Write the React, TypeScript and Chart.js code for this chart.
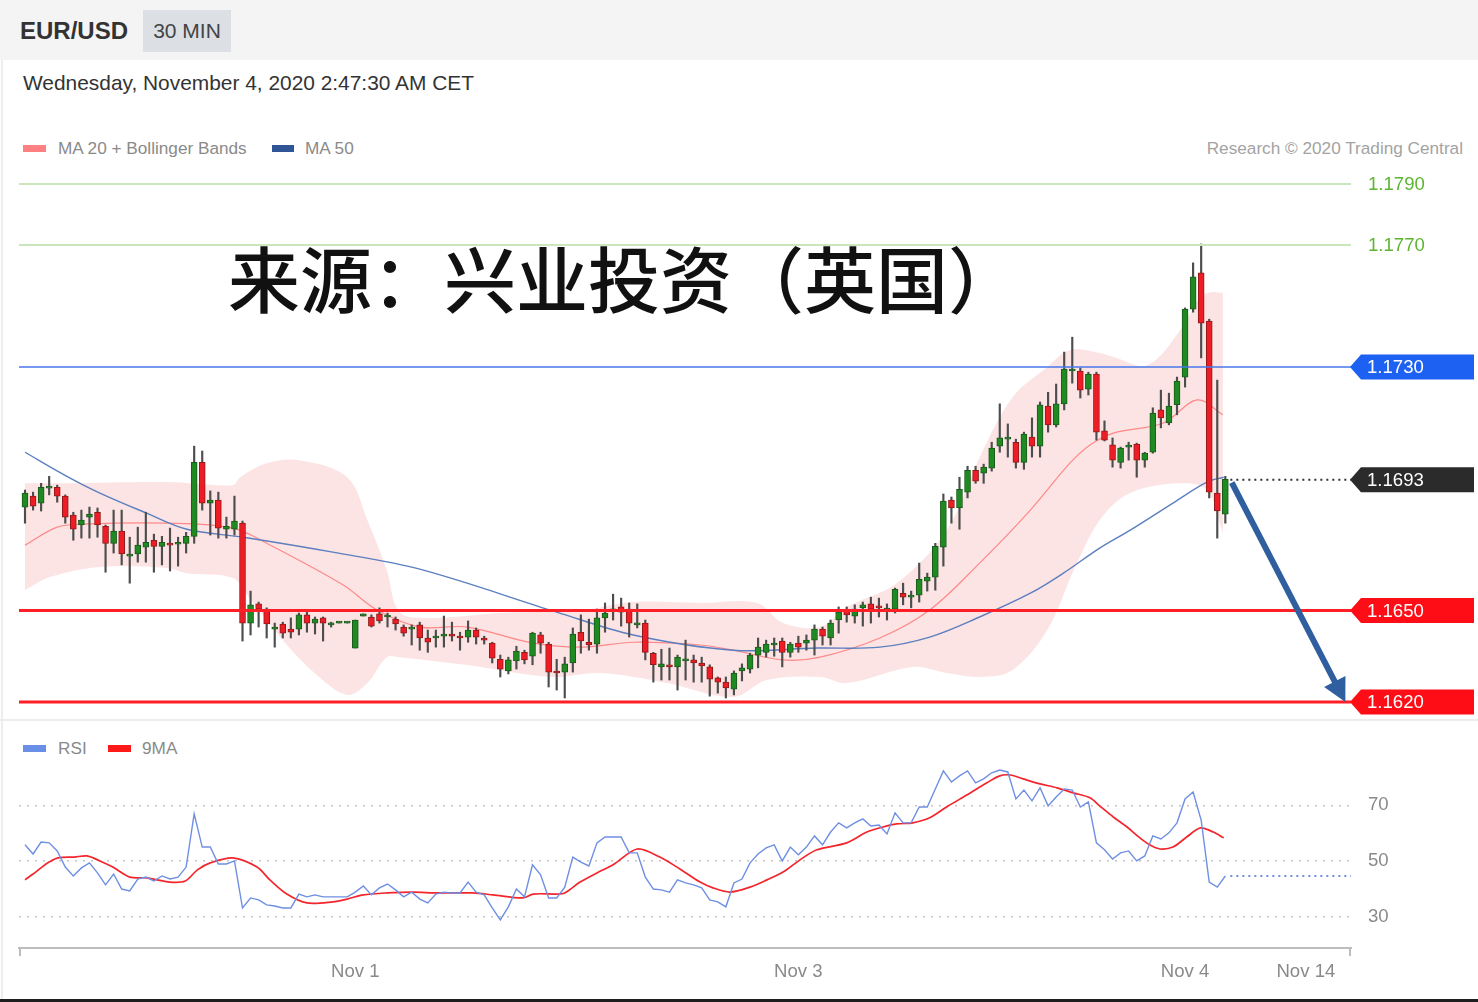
import React, { useEffect, useRef } from 'react';
import { Chart, registerables } from 'chart.js';

Chart.register(...registerables);

const FONT = '"Liberation Sans", Arial, Helvetica, sans-serif';

// ---------- price data (30 min candles) ----------
const candleOpen = [
  1.16840, 1.16876, 1.16853, 1.16902, 1.16905, 1.16876, 1.16814, 1.16781, 1.16807, 1.16823,
  1.16777, 1.16721, 1.16761, 1.16679, 1.16686, 1.16708, 1.16731, 1.16711, 1.16721, 1.16718,
  1.16721, 1.16744, 1.16987, 1.16853, 1.16863, 1.16767, 1.16767, 1.16787, 1.16459, 1.16522,
  1.16505, 1.16439, 1.16456, 1.16439, 1.16439, 1.16486, 1.16459, 1.16476, 1.16453, 1.16459,
  1.16459, 1.16377, 1.16482, 1.16479, 1.16489, 1.16479, 1.16472, 1.16446, 1.16439, 1.16453,
  1.16410, 1.16410, 1.16416, 1.16423, 1.16413, 1.16413, 1.16436, 1.16410, 1.16393, 1.16340,
  1.16302, 1.16335, 1.16363, 1.16350, 1.16420, 1.16390, 1.16298, 1.16298, 1.16328, 1.16429,
  1.16396, 1.16390, 1.16476, 1.16499, 1.16512, 1.16505, 1.16453, 1.16459, 1.16360, 1.16315,
  1.16322, 1.16315, 1.16335, 1.16338, 1.16328, 1.16315, 1.16279, 1.16265, 1.16242, 1.16302,
  1.16308, 1.16354, 1.16363, 1.16387, 1.16400, 1.16363, 1.16393, 1.16393, 1.16403, 1.16439,
  1.16410, 1.16469, 1.16499, 1.16482, 1.16509, 1.16522, 1.16512, 1.16502, 1.16505, 1.16557,
  1.16544, 1.16551, 1.16597, 1.16610, 1.16708, 1.16863, 1.16837, 1.16889, 1.16961, 1.16951,
  1.16968, 1.17040, 1.17063, 1.17053, 1.16987, 1.17070, 1.17040, 1.17172, 1.17110, 1.17179,
  1.17287, 1.17287, 1.17227, 1.17277, 1.17090, 1.17044, 1.16987, 1.17037, 1.17047, 1.16994,
  1.17020, 1.17159, 1.17116, 1.17176, 1.17267, 1.17490, 1.17609, 1.17451, 1.16886, 1.16817,
];
const candleHigh = [
  1.16896, 1.16889, 1.16918, 1.16941, 1.16912, 1.16880, 1.16823, 1.16830, 1.16840, 1.16837,
  1.16781, 1.16830, 1.16830, 1.16741, 1.16774, 1.16823, 1.16751, 1.16744, 1.16771, 1.16741,
  1.16757, 1.17040, 1.17024, 1.16893, 1.16889, 1.16807, 1.16876, 1.16794, 1.16564, 1.16528,
  1.16509, 1.16459, 1.16462, 1.16476, 1.16492, 1.16502, 1.16479, 1.16479, 1.16462, 1.16459,
  1.16459, 1.16469, 1.16489, 1.16486, 1.16509, 1.16492, 1.16479, 1.16453, 1.16453, 1.16462,
  1.16436, 1.16436, 1.16482, 1.16462, 1.16429, 1.16466, 1.16443, 1.16416, 1.16396, 1.16354,
  1.16347, 1.16383, 1.16370, 1.16429, 1.16429, 1.16396, 1.16340, 1.16347, 1.16443, 1.16486,
  1.16472, 1.16505, 1.16525, 1.16554, 1.16541, 1.16525, 1.16522, 1.16469, 1.16363, 1.16373,
  1.16377, 1.16354, 1.16403, 1.16354, 1.16347, 1.16322, 1.16282, 1.16282, 1.16302, 1.16325,
  1.16360, 1.16410, 1.16403, 1.16410, 1.16410, 1.16396, 1.16416, 1.16420, 1.16453, 1.16446,
  1.16469, 1.16512, 1.16512, 1.16519, 1.16528, 1.16544, 1.16541, 1.16522, 1.16574, 1.16590,
  1.16564, 1.16656, 1.16623, 1.16721, 1.16883, 1.16873, 1.16938, 1.16974, 1.16974, 1.16981,
  1.17053, 1.17179, 1.17113, 1.17063, 1.17086, 1.17133, 1.17185, 1.17217, 1.17244, 1.17349,
  1.17398, 1.17297, 1.17283, 1.17283, 1.17123, 1.17067, 1.17037, 1.17053, 1.17050, 1.17020,
  1.17166, 1.17224, 1.17214, 1.17267, 1.17494, 1.17642, 1.17704, 1.17457, 1.17257, 1.16941,
];
const candleLow = [
  1.16787, 1.16830, 1.16827, 1.16880, 1.16856, 1.16787, 1.16731, 1.16738, 1.16738, 1.16741,
  1.16626, 1.16689, 1.16650, 1.16590, 1.16659, 1.16659, 1.16626, 1.16650, 1.16630, 1.16646,
  1.16689, 1.16721, 1.16830, 1.16748, 1.16738, 1.16738, 1.16748, 1.16400, 1.16420, 1.16446,
  1.16410, 1.16380, 1.16410, 1.16410, 1.16420, 1.16429, 1.16423, 1.16400, 1.16446, 1.16459,
  1.16459, 1.16377, 1.16482, 1.16446, 1.16459, 1.16446, 1.16436, 1.16416, 1.16387, 1.16370,
  1.16363, 1.16380, 1.16380, 1.16400, 1.16370, 1.16396, 1.16390, 1.16390, 1.16328, 1.16282,
  1.16292, 1.16308, 1.16325, 1.16322, 1.16360, 1.16249, 1.16239, 1.16213, 1.16298, 1.16360,
  1.16370, 1.16360, 1.16429, 1.16469, 1.16449, 1.16413, 1.16443, 1.16338, 1.16265, 1.16272,
  1.16272, 1.16239, 1.16272, 1.16265, 1.16265, 1.16219, 1.16229, 1.16213, 1.16223, 1.16269,
  1.16295, 1.16312, 1.16347, 1.16350, 1.16315, 1.16347, 1.16363, 1.16370, 1.16354, 1.16387,
  1.16387, 1.16426, 1.16462, 1.16459, 1.16449, 1.16459, 1.16479, 1.16469, 1.16492, 1.16519,
  1.16509, 1.16528, 1.16564, 1.16567, 1.16646, 1.16787, 1.16767, 1.16870, 1.16918, 1.16918,
  1.16958, 1.17020, 1.17004, 1.16968, 1.16964, 1.17004, 1.17004, 1.17086, 1.17103, 1.17159,
  1.17247, 1.17198, 1.17208, 1.17060, 1.17057, 1.16971, 1.16968, 1.16994, 1.16938, 1.16971,
  1.17017, 1.17100, 1.17110, 1.17143, 1.17234, 1.17480, 1.17330, 1.16870, 1.16738, 1.16787,
];
const candleClose = [
  1.16886, 1.16843, 1.16905, 1.16905, 1.16876, 1.16807, 1.16767, 1.16797, 1.16817, 1.16781,
  1.16721, 1.16761, 1.16686, 1.16683, 1.16715, 1.16724, 1.16711, 1.16724, 1.16715, 1.16721,
  1.16744, 1.16987, 1.16853, 1.16863, 1.16771, 1.16777, 1.16794, 1.16459, 1.16519, 1.16505,
  1.16456, 1.16446, 1.16426, 1.16429, 1.16486, 1.16459, 1.16472, 1.16459, 1.16459, 1.16459,
  1.16459, 1.16469, 1.16489, 1.16449, 1.16466, 1.16482, 1.16456, 1.16426, 1.16443, 1.16410,
  1.16396, 1.16416, 1.16423, 1.16416, 1.16410, 1.16436, 1.16413, 1.16403, 1.16344, 1.16308,
  1.16338, 1.16367, 1.16338, 1.16426, 1.16393, 1.16298, 1.16295, 1.16325, 1.16423, 1.16400,
  1.16387, 1.16476, 1.16492, 1.16505, 1.16495, 1.16459, 1.16459, 1.16363, 1.16322, 1.16325,
  1.16315, 1.16347, 1.16340, 1.16328, 1.16318, 1.16275, 1.16265, 1.16246, 1.16295, 1.16312,
  1.16354, 1.16380, 1.16390, 1.16393, 1.16363, 1.16390, 1.16380, 1.16403, 1.16439, 1.16416,
  1.16459, 1.16495, 1.16486, 1.16505, 1.16519, 1.16505, 1.16509, 1.16505, 1.16570, 1.16544,
  1.16547, 1.16603, 1.16610, 1.16711, 1.16860, 1.16837, 1.16898, 1.16961, 1.16925, 1.16971,
  1.17034, 1.17067, 1.17067, 1.16987, 1.17080, 1.17040, 1.17176, 1.17110, 1.17179, 1.17293,
  1.17293, 1.17224, 1.17277, 1.17086, 1.17060, 1.16994, 1.17034, 1.17040, 1.16994, 1.17017,
  1.17149, 1.17133, 1.17172, 1.17254, 1.17490, 1.17596, 1.17444, 1.16889, 1.16827, 1.16931,
];

// ---------- indicator readings [candle index, value] ----------
const ma50: [number, number][] = [
  [1, 1.17020], [6.2, 1.16941], [10.3, 1.16886], [16.1, 1.16820], [21.1, 1.16767], [28.1, 1.16741],
  [39.2, 1.16692], [50, 1.16636], [67, 1.16495], [76.5, 1.16420], [88.9, 1.16370], [99.3, 1.16377],
  [107.1, 1.16380], [113.3, 1.16413], [119.5, 1.16479], [125.8, 1.16557], [129.9, 1.16623],
  [134.4, 1.16705], [138.2, 1.16764], [143.5, 1.16853], [147.7, 1.16922], [149.8, 1.16938],
];
const ma20: [number, number][] = [
  [1, 1.16715], [5, 1.16774], [8.2, 1.16784], [18.6, 1.16787], [26.8, 1.16771], [31, 1.16721],
  [40.5, 1.16584], [44.7, 1.16502], [50, 1.16446], [55.9, 1.16446], [64.1, 1.16393], [70.3, 1.16380],
  [76.5, 1.16396], [84.8, 1.16387], [88.9, 1.16370], [95.1, 1.16338], [99.7, 1.16347], [107.1, 1.16410],
  [113.3, 1.16502], [119.5, 1.16656], [125.8, 1.16830], [130.7, 1.16984], [133.2, 1.17044],
  [136.1, 1.17083], [142.3, 1.17116], [146.5, 1.17192], [149.7, 1.17143],
];
const bbUpper: [number, number][] = [
  [1, 1.16918], [6.2, 1.16918], [18.6, 1.16922], [26.8, 1.16912], [27.7, 1.16938], [31, 1.16984],
  [35.1, 1.16994], [41, 1.16938], [43.5, 1.16797], [45.9, 1.16633], [47.5, 1.16495], [51.3, 1.16476],
  [60, 1.16492], [70.3, 1.16502], [76.5, 1.16528], [84.8, 1.16525], [91.9, 1.16525], [95.1, 1.16459],
  [99.7, 1.16446], [103, 1.16512], [109.2, 1.16590], [115.4, 1.16764], [119.5, 1.17004], [123.6, 1.17201],
  [127.9, 1.17300], [130.7, 1.17356], [134.4, 1.17346], [136.1, 1.17333], [140.3, 1.17306],
  [144.4, 1.17421], [146.9, 1.17530], [148.5, 1.17546], [149.7, 1.17543],
];
const bbLower: [number, number][] = [
  [1, 1.16567], [4.1, 1.16610], [10.3, 1.16643], [18.6, 1.16640], [21.1, 1.16623], [26.8, 1.16607],
  [28.9, 1.16540], [33, 1.16403], [37.2, 1.16289], [41, 1.16223], [43.5, 1.16262], [45.9, 1.16347],
  [47.5, 1.16347], [55.9, 1.16321], [66.2, 1.16282], [72.4, 1.16295], [80.7, 1.16262], [88.9, 1.16216],
  [93.1, 1.16272], [99.7, 1.16282], [103, 1.16262], [111.2, 1.16315], [115.4, 1.16295], [119.5, 1.16282],
  [123.6, 1.16305], [127.9, 1.16436], [131.2, 1.16633], [134.4, 1.16797], [138.2, 1.16886],
  [144.4, 1.16918], [147.7, 1.16896], [149.7, 1.16754],
];

// ---------- RSI panel ----------
const rsi = [
  55.8, 52.5, 56.8, 56.5, 53.6, 47.8, 44.6, 47.5, 49.3, 45.7,
  41.4, 45.3, 39.9, 39.2, 43.5, 44.2, 42.8, 44.6, 43.5, 44.2,
  47.8, 66.9, 55.0, 55.0, 48.9, 48.9, 50.0, 33.1, 36.7, 36.0,
  34.2, 33.8, 33.1, 33.1, 38.1, 37.1, 37.8, 37.1, 37.1, 37.1,
  37.1, 38.8, 41.0, 37.8, 40.3, 41.7, 39.6, 37.1, 38.8, 36.3,
  34.9, 38.1, 38.8, 38.5, 38.5, 42.4, 38.8, 37.8, 33.1, 28.8,
  33.5, 39.9, 37.1, 48.6, 45.0, 36.7, 36.7, 40.6, 51.4, 49.6,
  48.2, 56.5, 58.6, 58.6, 58.6, 52.9, 52.9, 44.2, 39.9, 39.6,
  38.8, 43.2, 42.1, 41.4, 40.3, 36.0, 35.3, 33.5, 42.1, 43.5,
  49.3, 52.5, 54.7, 55.8, 50.0, 55.0, 52.2, 55.0, 59.0, 55.8,
  60.4, 63.7, 61.9, 63.7, 65.1, 62.6, 62.9, 59.7, 67.3, 63.7,
  63.7, 69.4, 69.4, 75.9, 82.4, 78.4, 80.6, 82.4, 78.1, 79.5,
  81.7, 82.7, 82.0, 72.3, 75.5, 71.6, 76.3, 69.8, 73.0, 75.9,
  75.5, 69.4, 71.2, 56.5, 54.0, 50.7, 52.9, 53.6, 50.0, 51.8,
  59.0, 57.9, 60.1, 63.7, 72.3, 74.8, 64.7, 42.4, 40.6, 44.6,
];
const rsiMa9: [number, number][] = [
  [1, 43.2], [2, 45.3], [3.1, 47.8], [4, 49.6], [5.1, 51.1], [7.1, 51.4], [8.7, 51.8], [10.3, 50.0],
  [11.9, 47.8], [14, 44.2], [16.1, 43.9], [19, 42.4], [20.9, 42.8], [22.4, 46.8], [24, 49.3], [26.8, 51.1],
  [29.8, 47.8], [31.4, 43.2], [33.5, 38.1], [36, 34.9], [39.2, 35.3], [41, 36.3], [43, 37.8], [45.9, 38.5],
  [49.2, 38.8], [52.1, 38.5], [56.6, 38.5], [59.1, 37.8], [62.8, 36.7], [64.1, 38.1], [67, 38.1],
  [68, 38.5], [69.9, 42.4], [72, 45.7], [74, 48.6], [77, 54.3], [79.8, 51.4], [82.3, 47.1], [84.8, 42.4],
  [86.4, 40.3], [88.5, 38.8], [91, 40.6], [93.1, 43.2], [95.1, 46.0], [97.2, 50.4], [99.3, 54.0],
  [103, 56.5], [105.5, 60.4], [107.5, 62.2], [109.2, 63.3], [111.2, 63.7], [113.3, 65.5], [115.4, 69.4],
  [117.9, 73.7], [120.4, 78.1], [122, 80.6], [123.3, 80.9], [124.9, 79.5], [127, 77.7], [129.1, 76.3],
  [131.1, 74.5], [133.2, 72.7], [134.4, 69.8], [136.1, 65.8], [137.8, 62.2], [139.4, 58.3], [140.6, 55.8],
  [141.9, 54.3], [143.5, 55.0], [145.2, 58.6], [146.9, 61.9], [148.5, 60.4], [149.8, 58.3],
];

// ---------- levels, axis ticks ----------
const greenLevels = [1.1790, 1.1770];
const pivotLevel = 1.1730;
const lastPrice = 1.1693;
const supportLevels = [1.1650, 1.1620];
const arrowFrom = { x: 150.8, y: 1.1692 };
const arrowTo = { x: 164.9, y: 1.1620 };
const rsiTicks = [30, 50, 70];
const xTickIdx = [42, 97, 145, 160];
const xTickLabels = ['Nov 1', 'Nov 3', 'Nov 4', 'Nov 14'];

const X_MIN = 0.255;
const X_MAX = 165.6;
const PRICE_MIN = 1.161407;
const PRICE_MAX = 1.179798;
const RSI_MIN = 18.7;
const RSI_MAX = 84.5;
const LABEL_SIZE = 18.6;

const candleIdx = candleOpen.map((_, i) => i + 1);
const isUp = (k: number) => candleClose[k] >= candleOpen[k];

function drawTag(ctx: any, left: number, right: number, py: number, text: string, color: string) {
  ctx.beginPath();
  ctx.moveTo(left, py);
  ctx.lineTo(left + 11, py - 12.5);
  ctx.lineTo(right, py - 12.5);
  ctx.lineTo(right, py + 12.5);
  ctx.lineTo(left + 11, py + 12.5);
  ctx.closePath();
  ctx.fillStyle = color;
  ctx.fill();
  ctx.fillStyle = '#ffffff';
  ctx.font = `${LABEL_SIZE}px ${FONT}`;
  ctx.textBaseline = 'middle';
  ctx.textAlign = 'left';
  ctx.fillText(text, left + 17, py + 1);
}

function hLine(ctx: any, x1: number, x2: number, y: number) {
  ctx.beginPath();
  ctx.moveTo(x1, y);
  ctx.lineTo(x2, y);
  ctx.stroke();
}

const mainOverlay = {
  id: 'mainOverlay',
  afterDatasetsDraw(chart: any) {
    const { ctx, chartArea: a, scales } = chart;
    const x = scales.x;
    const y = scales.y;
    const right = chart.width - 4;
    ctx.save();
    ctx.font = `${LABEL_SIZE}px ${FONT}`;
    ctx.textBaseline = 'middle';
    ctx.textAlign = 'left';
    greenLevels.forEach((v) => {
      const py = Math.round(y.getPixelForValue(v));
      ctx.strokeStyle = '#c9e7ba';
      ctx.lineWidth = 2;
      hLine(ctx, a.left, a.right, py);
      ctx.fillStyle = '#5db531';
      ctx.fillText(v.toFixed(4), a.right + 17, py + 1);
    });
    const pp = y.getPixelForValue(pivotLevel);
    ctx.strokeStyle = '#4677ea';
    ctx.lineWidth = 1.6;
    hLine(ctx, a.left, a.right, pp);
    drawTag(ctx, a.right - 1, right, pp, pivotLevel.toFixed(4), '#1d61f2');
    supportLevels.forEach((v) => {
      const py = y.getPixelForValue(v);
      ctx.strokeStyle = '#ff1f26';
      ctx.lineWidth = 3;
      hLine(ctx, a.left, a.right, py);
      drawTag(ctx, a.right - 1, right, py, v.toFixed(4), '#ff0d16');
    });
    const lp = y.getPixelForValue(lastPrice);
    const lx = x.getPixelForValue(candleIdx[candleIdx.length - 1]) + 5;
    ctx.setLineDash([2, 4]);
    ctx.strokeStyle = '#333';
    ctx.lineWidth = 2;
    hLine(ctx, lx, a.right, lp);
    ctx.setLineDash([]);
    drawTag(ctx, a.right - 1, right, lp, lastPrice.toFixed(4), '#2b2b2b');

    // arrow
    const sx = x.getPixelForValue(arrowFrom.x);
    const sy = y.getPixelForValue(arrowFrom.y);
    const tx = x.getPixelForValue(arrowTo.x);
    const ty = y.getPixelForValue(arrowTo.y);
    const dx = tx - sx;
    const dy = ty - sy;
    const len = Math.hypot(dx, dy);
    const ux = dx / len;
    const uy = dy / len;
    const headLen = 23;
    const headHalf = 12;
    const bx = tx - ux * headLen;
    const by = ty - uy * headLen;
    ctx.strokeStyle = '#2f5f9e';
    ctx.fillStyle = '#2f5f9e';
    ctx.lineWidth = 6;
    ctx.lineCap = 'butt';
    ctx.beginPath();
    ctx.moveTo(sx, sy);
    ctx.lineTo(bx + ux * 2, by + uy * 2);
    ctx.stroke();
    ctx.beginPath();
    ctx.moveTo(tx, ty);
    ctx.lineTo(bx - uy * headHalf, by + ux * headHalf);
    ctx.lineTo(bx + uy * headHalf, by - ux * headHalf);
    ctx.closePath();
    ctx.fill();
    ctx.restore();
  },
};

const rsiOverlay = {
  id: 'rsiOverlay',
  afterDraw(chart: any) {
    const { ctx, chartArea: a, scales } = chart;
    const x = scales.x;
    const y = scales.y;
    ctx.save();
    const last = rsi[rsi.length - 1];
    const py = y.getPixelForValue(last);
    const lx = x.getPixelForValue(rsi.length) + 5;
    ctx.setLineDash([2, 4]);
    ctx.strokeStyle = '#6f8fe3';
    ctx.lineWidth = 2;
    hLine(ctx, lx, a.right, py);
    ctx.setLineDash([]);
    ctx.strokeStyle = '#bdbdbd';
    ctx.lineWidth = 2;
    [a.left + 1, a.right - 1].forEach((px) => {
      ctx.beginPath();
      ctx.moveTo(px, a.bottom);
      ctx.lineTo(px, a.bottom + 8);
      ctx.stroke();
    });
    ctx.restore();
  },
};

export default function App() {
  const mainRef = useRef<HTMLCanvasElement | null>(null);
  const rsiRef = useRef<HTMLCanvasElement | null>(null);

  useEffect(() => {
    document.body.style.margin = '0';
    document.body.style.background = '#ffffff';
    const main = new Chart(mainRef.current as HTMLCanvasElement, {
      type: 'bar',
      data: {
        datasets: [
          {
            type: 'line',
            data: bbUpper.map(([i, v]) => ({ x: i, y: v })),
            borderColor: 'rgba(0,0,0,0)',
            borderWidth: 0,
            pointRadius: 0,
            tension: 0.35,
            fill: false,
            order: 6,
          } as any,
          {
            type: 'line',
            data: bbLower.map(([i, v]) => ({ x: i, y: v })),
            borderColor: 'rgba(0,0,0,0)',
            borderWidth: 0,
            pointRadius: 0,
            tension: 0.35,
            fill: '-1',
            backgroundColor: 'rgba(248, 185, 185, 0.38)',
            order: 6,
          } as any,
          {
            type: 'line',
            data: ma20.map(([i, v]) => ({ x: i, y: v })),
            borderColor: 'rgba(255, 120, 120, 0.85)',
            borderWidth: 1.2,
            pointRadius: 0,
            tension: 0.35,
            fill: false,
            order: 4,
          } as any,
          {
            type: 'line',
            data: ma50.map(([i, v]) => ({ x: i, y: v })),
            borderColor: '#5b7fbf',
            borderWidth: 1.4,
            pointRadius: 0,
            tension: 0.35,
            fill: false,
            order: 3,
          } as any,
          {
            type: 'bar',
            data: candleIdx.map((i, k) => ({ x: i, y: [candleLow[k], candleHigh[k]] })),
            backgroundColor: '#4d4d4d',
            borderWidth: 0,
            grouped: false,
            barThickness: 1.5,
            maxBarThickness: 1.5,
            minBarLength: 1,
            order: 2,
          } as any,
          {
            type: 'bar',
            data: candleIdx.map((i, k) => ({ x: i, y: [candleOpen[k], candleClose[k]] })),
            backgroundColor: candleIdx.map((_, k) => (isUp(k) ? '#1f8a22' : '#ee1c24')),
            borderColor: candleIdx.map((_, k) => (isUp(k) ? '#1a5a1a' : '#8f1a1a')),
            borderWidth: 1,
            borderSkipped: false,
            grouped: false,
            barThickness: 6,
            maxBarThickness: 6,
            minBarLength: 2,
            order: 1,
          } as any,
        ],
      },
      options: {
        responsive: false,
        animation: false,
        events: [],
        layout: { autoPadding: false, padding: { left: 19, right: 127, top: 0, bottom: 0 } },
        plugins: { legend: { display: false }, tooltip: { enabled: false } },
        scales: {
          x: { type: 'linear', display: false, min: X_MIN, max: X_MAX, offset: false } as any,
          y: { type: 'linear', display: false, min: PRICE_MIN, max: PRICE_MAX, beginAtZero: false } as any,
        },
      },
      plugins: [mainOverlay],
    } as any);

    const rsiChart = new Chart(rsiRef.current as HTMLCanvasElement, {
      type: 'line',
      data: {
        datasets: [
          {
            data: rsi.map((v, i) => ({ x: i + 1, y: v })),
            borderColor: '#6f8fe3',
            borderWidth: 1.4,
            pointRadius: 0,
            tension: 0,
            fill: false,
          },
          {
            data: rsiMa9.map(([i, v]) => ({ x: i, y: v })),
            borderColor: '#f2262c',
            borderWidth: 1.7,
            pointRadius: 0,
            tension: 0.3,
            fill: false,
          },
        ],
      },
      options: {
        responsive: false,
        animation: false,
        events: [],
        layout: { autoPadding: false, padding: { left: 19, right: 0, top: 5, bottom: 0 } },
        plugins: { legend: { display: false }, tooltip: { enabled: false } },
        scales: {
          x: {
            type: 'linear',
            position: 'bottom',
            min: X_MIN,
            max: X_MAX,
            offset: false,
            afterBuildTicks: (s: any) => {
              s.ticks = xTickIdx.map((v) => ({ value: v }));
            },
            afterFit: (s: any) => {
              s.height = 54;
              s.paddingLeft = 0;
              s.paddingRight = 0;
            },
            grid: { display: false, drawTicks: false },
            border: { display: true, color: '#bdbdbd', width: 2 },
            ticks: {
              color: '#8a8a8a',
              font: { size: LABEL_SIZE, family: FONT },
              padding: 13,
              maxRotation: 0,
              autoSkip: false,
              callback: (_v: any, i: number) => xTickLabels[i],
            },
          } as any,
          y: {
            type: 'linear',
            position: 'right',
            min: RSI_MIN,
            max: RSI_MAX,
            afterBuildTicks: (s: any) => {
              s.ticks = rsiTicks.map((v) => ({ value: v }));
            },
            afterFit: (s: any) => {
              s.width = 127;
              s.paddingTop = 0;
              s.paddingBottom = 0;
            },
            grid: { color: '#c4c4c4', lineWidth: 1.5, drawTicks: false },
            border: { display: false, dash: [2, 6] },
            ticks: { color: '#8a8a8a', font: { size: LABEL_SIZE, family: FONT }, padding: 17 },
          } as any,
        },
      },
      plugins: [rsiOverlay],
    } as any);

    return () => {
      main.destroy();
      rsiChart.destroy();
    };
  }, []);

  const abs = (style: any) => ({ position: 'absolute' as const, ...style });

  return (
    <div style={{ position: 'relative', width: 1478, height: 1002, background: '#fff', fontFamily: FONT, overflow: 'hidden' }}>
      <div style={abs({ left: 0, top: 0, width: 1478, height: 60, background: '#f4f4f4' })} />
      <div style={abs({ left: 1, top: 60, width: 2, height: 942, background: '#eceef2' })} />
      <div style={abs({ left: 20, top: 17, fontSize: 24, lineHeight: '28px', fontWeight: 700, color: '#333' })}>EUR/USD</div>
      <div
        style={abs({
          left: 143, top: 10, width: 88, height: 42, background: '#dcdfe4', color: '#444', fontSize: 21,
          display: 'flex', alignItems: 'center', justifyContent: 'center',
        })}
      >
        30 MIN
      </div>
      <div style={abs({ left: 23, top: 71, fontSize: 20.9, lineHeight: '24px', color: '#333', whiteSpace: 'nowrap' })}>
        Wednesday, November 4, 2020 2:47:30 AM CET
      </div>

      <div style={abs({ left: 23, top: 145, width: 23, height: 7, background: '#ff8080' })} />
      <div style={abs({ left: 58, top: 138, fontSize: 17.2, lineHeight: '20px', color: '#8a8a8a', whiteSpace: 'nowrap' })}>MA 20 + Bollinger Bands</div>
      <div style={abs({ left: 272, top: 145, width: 22, height: 7, background: '#2f5597' })} />
      <div style={abs({ left: 305, top: 138, fontSize: 17.2, lineHeight: '20px', color: '#8a8a8a' })}>MA 50</div>
      <div style={abs({ right: 15, top: 138, fontSize: 17.2, lineHeight: '20px', color: '#a3a3a3', whiteSpace: 'nowrap' })}>
        Research © 2020 Trading Central
      </div>

      <canvas ref={mainRef} width={1478} height={560} style={abs({ left: 0, top: 160, width: 1478, height: 560 })} />

      <div style={abs({ left: 0, top: 719, width: 1478, height: 2, background: '#ececec' })} />

      <div style={abs({ left: 23, top: 745, width: 23, height: 7, background: '#6a8fe6' })} />
      <div style={abs({ left: 58, top: 738, fontSize: 17.2, lineHeight: '20px', color: '#8a8a8a' })}>RSI</div>
      <div style={abs({ left: 108, top: 745, width: 23, height: 7, background: '#ff1a1a' })} />
      <div style={abs({ left: 142, top: 738, fontSize: 17.2, lineHeight: '20px', color: '#8a8a8a' })}>9MA</div>

      <canvas ref={rsiRef} width={1478} height={242} style={abs({ left: 0, top: 760, width: 1478, height: 242 })} />

      <div
        style={abs({
          left: 228, top: 240, fontSize: 72, lineHeight: '72px', fontWeight: 500, color: '#111',
          fontFamily: '"Noto Sans CJK SC", sans-serif', whiteSpace: 'nowrap',
        })}
      >
        来源：兴业投资（英国）
      </div>

      <div style={abs({ left: 0, top: 999, width: 1478, height: 3, background: '#1e1e1e' })} />
    </div>
  );
}
